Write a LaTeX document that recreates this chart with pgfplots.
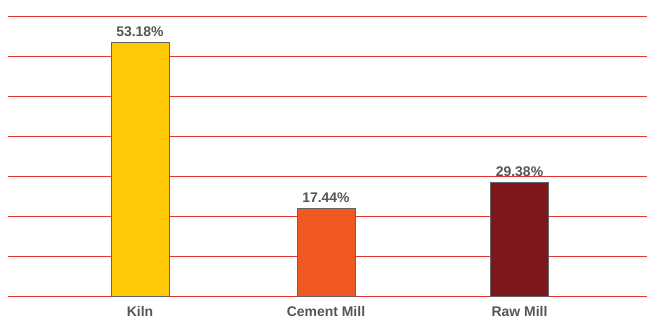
\documentclass[border=0pt]{standalone}
\usepackage{pgfplots}
\pgfplotsset{compat=1.18}
\usepackage{fontspec}
\setmainfont{Liberation Sans}
\usetikzlibrary{calc}
\definecolor{kiln}{RGB}{255,201,6}
\definecolor{cement}{RGB}{240,90,34}
\definecolor{raw}{RGB}{127,22,27}
\definecolor{gridred}{RGB}{222,52,52}
\definecolor{txt}{RGB}{85,85,85}
\definecolor{edge}{RGB}{100,100,100}
\begin{document}
\begin{tikzpicture}
\begin{axis}[
  name=ax,
  scale only axis,
  width=639bp, height=280.7bp,
  xmin=8, xmax=647,
  ymin=0, ymax=7,
  ytick={0,1,2,3,4,5,6,7},
  yticklabels={},
  ymajorgrids,
  major grid style={draw=gridred, line width=0.8bp},
  axis line style={draw=none},
  major tick length=0pt,
  xtick={140,326,519.5},
  xticklabels={Kiln,Cement Mill,Raw Mill},
  xticklabel style={font=\fontsize{14}{16}\selectfont\bfseries, text=txt, yshift=-6bp},
  bar width=58,
  ybar, bar shift=0pt,
  nodes near coords,
  point meta=explicit symbolic,
  every node near coord/.append style={font=\fontsize{14}{16}\selectfont\bfseries, text=txt, yshift=2bp},
  clip=false,
]
\addplot[fill=kiln, draw=edge, line width=0.8bp] coordinates {(140,6.334) [53.18\%]};
\addplot[fill=cement, draw=edge, line width=0.8bp] coordinates {(326,2.204) [17.44\%]};
\addplot[fill=raw, draw=edge, line width=0.8bp] coordinates {(519.5,2.853) [29.38\%]};
\end{axis}
\pgfresetboundingbox
\path ($(ax.south west)+(-8bp,-23.3bp)$) rectangle ($(ax.north east)+(0,16bp)$);
\end{tikzpicture}
\end{document}
